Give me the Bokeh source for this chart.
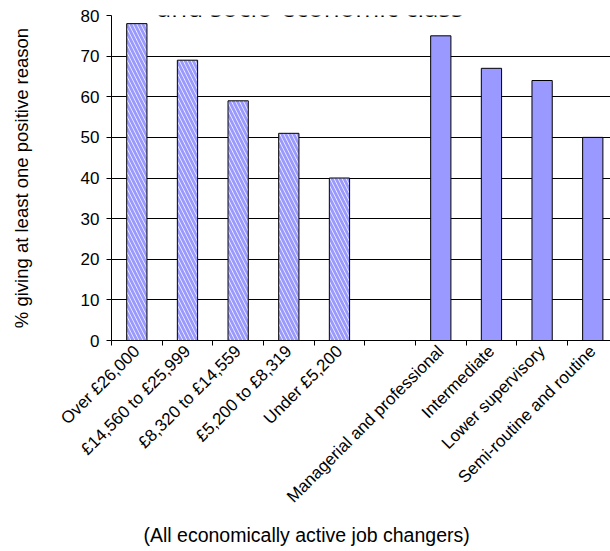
from bokeh.plotting import figure
from bokeh.models import Range1d, FixedTicker, Label, Title
from bokeh.embed import file_html
from bokeh.resources import INLINE

income_labels = ["Over £26,000", "£14,560 to £25,999", "£8,320 to £14,559", "£5,200 to £8,319", "Under £5,200"]
income_values = [78, 69, 59, 51, 40]
class_labels = ["Managerial and professional", "Intermediate", "Lower supervisory", "Semi-routine and routine"]
class_values = [75, 67, 64, 50]
y_ticks = [0, 10, 20, 30, 40, 50, 60, 70, 80]
title_text = "and socio-economic class"
y_title = "% giving at least one positive reason"
x_title = "(All economically active job changers)"

n_slots = len(income_labels) + 1 + len(class_labels)
income_x = [i + 0.5 for i in range(len(income_labels))]
class_x = [len(income_labels) + 1 + i + 0.5 for i in range(len(class_labels))]
centers = income_x + class_x
boundaries = list(range(n_slots + 1))
overrides = {c: l for c, l in zip(centers, income_labels + class_labels)}

FONT = "Liberation Sans"

p = figure(width=610, height=551, output_backend="svg", toolbar_location=None,
           x_range=Range1d(0, 9.85), y_range=Range1d(0, 80),
           min_border_left=111, min_border_right=0, min_border_top=15, min_border_bottom=211)
p.outline_line_color = None
p.background_fill_color = "white"
p.border_fill_color = "white"

p.vbar(x=income_x, top=income_values, width=0.4, fill_color="white", line_color="black",
       line_width=1, hatch_pattern="\\", hatch_color="#9999FF", hatch_scale=8, hatch_weight=2.9)
p.vbar(x=class_x, top=class_values, width=0.4, fill_color="#9999FF", line_color="black", line_width=1)

# x axis
p.xgrid.grid_line_color = None
xa = p.xaxis[0]
xa.ticker = FixedTicker(ticks=centers, minor_ticks=boundaries)
xa.major_label_overrides = overrides
xa.major_tick_line_color = None
xa.major_tick_out = 0
xa.major_tick_in = 0
xa.minor_tick_line_color = "black"
xa.minor_tick_out = 5
xa.minor_tick_in = 0
xa.axis_line_color = "black"
xa.major_label_orientation = 0.785398
xa.major_label_standoff = 3
xa.major_label_text_font = FONT
xa.major_label_text_font_size = "17px"
xa.major_label_text_color = "black"

# y axis
ya = p.yaxis[0]
ya.ticker = FixedTicker(ticks=y_ticks)
ya.minor_tick_line_color = None
ya.major_tick_out = 5
ya.major_tick_in = 0
ya.major_tick_line_color = "black"
ya.axis_line_color = "black"
ya.major_label_text_font = FONT
ya.major_label_text_font_size = "17px"
ya.major_label_text_color = "black"
ya.major_label_standoff = 7
ya.axis_label = y_title
ya.axis_label_text_font = FONT
ya.axis_label_text_font_size = "18.5px"
ya.axis_label_text_font_style = "normal"
ya.axis_label_text_color = "black"
ya.axis_label_standoff = 46
p.ygrid.grid_line_color = "black"
p.ygrid.grid_line_width = 1

title = Label(x=3.92, y=82.2, text=title_text, text_align="center", text_baseline="alphabetic",
              text_font="Open Sans", text_font_size="26px", text_color="black")
p.add_layout(title)

xtitle = Title(text=x_title, align="left", offset=32, standoff=12,
               text_font=FONT, text_font_size="19.5px", text_font_style="normal", text_color="black")
p.add_layout(xtitle, "below")

open("out.html", "w").write(file_html(p, INLINE))
